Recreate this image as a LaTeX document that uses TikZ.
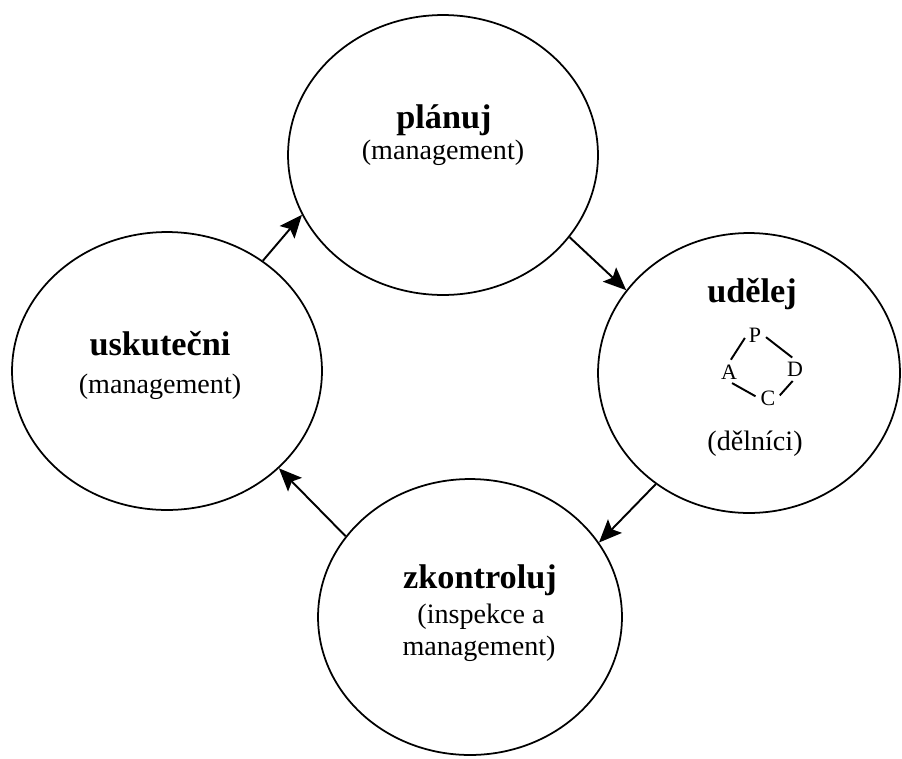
\documentclass[tikz,border=0pt]{standalone}
\usepackage{fontspec}
\setmainfont{Liberation Serif}
\usetikzlibrary{arrows.meta,shapes.geometric,positioning}

\begin{document}
\begin{tikzpicture}[x=0.02cm,y=-0.02cm,
  phase/.style={draw,ellipse,line width=1pt,inner sep=0pt},
  title/.style={anchor=base,inner sep=0pt,font=\fontsize{19.5}{23}\selectfont\bfseries},
  who/.style={anchor=base,inner sep=0pt,font=\fontsize{16}{19}\selectfont},
  letter/.style={inner sep=1pt,font=\fontsize{12.5}{15}\selectfont},
  tick/.style={line width=1.1pt,shorten <=2pt,shorten >=2pt},
  flow/.style={line width=1.1pt,-{Stealth[length=13pt,width=11pt,inset=2.5pt]}}]
\useasboundingbox (0,0) rectangle (902,758);
% the four phases
\node[phase,minimum width=6.2cm,minimum height=5.6cm] (plan) at (443,155) {};
\node[phase,minimum width=6.04cm,minimum height=5.6cm] (do) at (749,373) {};
\node[phase,minimum width=6.08cm,minimum height=5.52cm] (check) at (470,617) {};
\node[phase,minimum width=6.2cm,minimum height=5.56cm] (act) at (167,371) {};
% texts
\node[title] (planT) at (444,128) {plánuj};
\node[who] (planW) at (443,159) {(management)};
\node[title] (doT) at (752,302) {udělej};
\node[who] (doW) at (755,450) {(dělníci)};
\node[title] (checkT) at (480,588) {zkontroluj};
\node[who] (checkW) at (481,623) {(inspekce a};
\node[who] (checkX) at (479,655) {management)};
\node[title] (actT) at (160,355) {uskutečni};
\node[who] (actW) at (160,393) {(management)};
% small PDCA circle
\node[letter] (lp) at (755,335) {P};
\node[letter] (ld) at (795,369) {D};
\node[letter] (lc) at (768,398) {C};
\node[letter] (la) at (729,372) {A};
\draw[tick] (la.north) -- (lp.west);
\draw[tick] (lp.east) -- (ld.north);
\draw[tick] (la.south) -- (lc.west);
\draw[tick] (lc.east) -- (ld.south);
% cycle
\draw[flow] (act.49.2) -- (plan.203.9);
\draw[flow] (plan.327.8) -- (do.146.2);
\draw[flow] (do.230.1) -- (check.30.9);
\draw[flow] (check.147.1) -- (act.319.9);
\end{tikzpicture}
\end{document}
